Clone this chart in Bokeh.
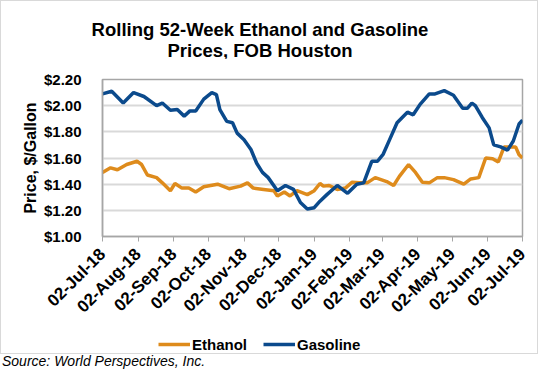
import math
import pandas as pd
from bokeh.plotting import figure
from bokeh.layouts import column
from bokeh.models import (Range1d, FixedTicker, DatetimeTickFormatter, NumeralTickFormatter,
                          Legend, Div)
from bokeh.embed import file_html
from bokeh.resources import INLINE

# ---------------- data ----------------
gas_dates = ["2018-07-02", "2018-07-10", "2018-07-20", "2018-07-29", "2018-08-07", "2018-08-18",
             "2018-08-23", "2018-08-30", "2018-09-05", "2018-09-11", "2018-09-16", "2018-09-21",
             "2018-09-28", "2018-10-05", "2018-10-09", "2018-10-12", "2018-10-18", "2018-10-23",
             "2018-10-27", "2018-11-02", "2018-11-08", "2018-11-13", "2018-11-18", "2018-11-23",
             "2018-12-01", "2018-12-08", "2018-12-15", "2018-12-21", "2018-12-27", "2019-01-02",
             "2019-01-07", "2019-01-13", "2019-01-22", "2019-01-31", "2019-02-08", "2019-02-14",
             "2019-02-21", "2019-02-26", "2019-03-03", "2019-03-09", "2019-03-15", "2019-03-24",
             "2019-03-29", "2019-04-04", "2019-04-12", "2019-04-17", "2019-04-25", "2019-05-03",
             "2019-05-11", "2019-05-15", "2019-05-19", "2019-05-22", "2019-05-28", "2019-06-03",
             "2019-06-07", "2019-06-13", "2019-06-19", "2019-06-24", "2019-06-29", "2019-07-02"]
gas_prices = [2.09, 2.11, 2.02, 2.10, 2.07, 2.00,
              2.02, 1.965, 1.97, 1.92, 1.96, 1.96,
              2.05, 2.10, 2.085, 1.97, 1.88, 1.87,
              1.79, 1.74, 1.665, 1.56, 1.49, 1.45,
              1.35, 1.39, 1.36, 1.26, 1.21, 1.22,
              1.27, 1.32, 1.39, 1.33, 1.40, 1.41,
              1.575, 1.575, 1.63, 1.75, 1.87, 1.95,
              1.93, 2.01, 2.09, 2.09, 2.115, 2.08,
              1.98, 1.98, 2.02, 2.00, 1.91, 1.83,
              1.70, 1.685, 1.66, 1.73, 1.86, 1.89]

eth_dates = ["2018-07-02", "2018-07-09", "2018-07-15", "2018-07-23", "2018-08-01", "2018-08-05",
             "2018-08-10", "2018-08-18", "2018-08-23", "2018-08-30", "2018-09-03", "2018-09-09",
             "2018-09-15", "2018-09-21", "2018-09-28", "2018-10-10", "2018-10-20", "2018-10-30",
             "2018-11-05", "2018-11-10", "2018-11-19", "2018-11-28", "2018-12-01", "2018-12-07",
             "2018-12-12", "2018-12-18", "2018-12-27", "2019-01-02", "2019-01-07", "2019-01-10",
             "2019-01-15", "2019-01-22", "2019-01-29", "2019-02-04", "2019-02-10", "2019-02-17",
             "2019-02-24", "2019-03-06", "2019-03-12", "2019-03-17", "2019-03-25", "2019-03-31",
             "2019-04-06", "2019-04-12", "2019-04-19", "2019-04-25", "2019-05-03", "2019-05-12",
             "2019-05-18", "2019-05-25", "2019-05-31", "2019-06-06", "2019-06-11", "2019-06-16",
             "2019-06-22", "2019-06-26", "2019-06-29", "2019-07-02"]
eth_prices = [1.49, 1.525, 1.51, 1.55, 1.575, 1.55,
              1.47, 1.45, 1.41, 1.35, 1.405, 1.37,
              1.37, 1.34, 1.38, 1.40, 1.365, 1.385,
              1.41, 1.37, 1.36, 1.35, 1.31, 1.34,
              1.31, 1.35, 1.32, 1.35, 1.405, 1.385,
              1.39, 1.36, 1.37, 1.415, 1.41, 1.41,
              1.45, 1.42, 1.39, 1.46, 1.55, 1.49,
              1.415, 1.41, 1.45, 1.45, 1.435, 1.40,
              1.44, 1.45, 1.60, 1.595, 1.57, 1.685,
              1.685, 1.685, 1.625, 1.60]

tick_dates = ["2018-07-02", "2018-08-02", "2018-09-02", "2018-10-02", "2018-11-02", "2018-12-02",
              "2019-01-02", "2019-02-02", "2019-03-02", "2019-04-02", "2019-05-02", "2019-06-02",
              "2019-07-02"]
y_ticks = [1.0, 1.2, 1.4, 1.6, 1.8, 2.0, 2.2]

series_names = ["Ethanol", "Gasoline"]
series_colors = ["#de8b1c", "#0b4a8c"]
title_lines = ["Rolling 52-Week Ethanol and Gasoline", "Prices, FOB Houston"]
source_text = "Source: World Perspectives, Inc."

# ---------------- styling constants ----------------
FONT = "Liberation Sans"
BOX = "1px solid #d9d9d9"
W = 538

gx = pd.to_datetime(gas_dates)
ex = pd.to_datetime(eth_dates)
tks = pd.to_datetime(tick_dates)
tick_ms = [t.value // 10**6 for t in tks]

# ---------------- title (top of the chart box) ----------------
line_tops = [18, 39]
line_divs = "".join(
    '<div style="position:absolute;left:0;top:%dpx;width:518px;height:22px;'
    'line-height:22px;text-align:center;white-space:nowrap;">%s</div>' % (t, s)
    for t, s in zip(line_tops, title_lines))
title_html = ('<div style="position:relative;width:518px;height:58px;margin:0;padding:0;'
              'font-weight:bold;font-size:18.5px;color:#000000;font-family:\'%s\';">%s</div>'
              % (FONT, line_divs))
title_div = Div(text=title_html, width=W, height=58, margin=0,
                styles={"border": BOX, "border-bottom": "none", "background": "white"})

# ---------------- main plot ----------------
p = figure(width=W, height=270, x_axis_type="datetime",
           x_range=Range1d(tks[0], tks[-1]), y_range=Range1d(1.0, 2.2),
           output_backend="svg", toolbar_location=None,
           min_border_left=101, min_border_right=17, min_border_top=21, min_border_bottom=92)
p.styles = {"border-left": BOX, "border-right": BOX}
p.background_fill_color = "white"
p.border_fill_color = "white"
p.outline_line_color = "#a6a6a6"
p.outline_line_width = 1.5

p.line(ex, eth_prices, line_color=series_colors[0], line_width=3.5)
p.line(gx, gas_prices, line_color=series_colors[1], line_width=3.5)

p.xgrid.visible = False
p.ygrid.grid_line_color = "#d9d9d9"
p.ygrid.grid_line_width = 2
p.ygrid.ticker = FixedTicker(ticks=y_ticks)

fmt = "%d-%b-%y"
p.xaxis.ticker = FixedTicker(ticks=tick_ms)
p.xaxis.formatter = DatetimeTickFormatter(microseconds=fmt, milliseconds=fmt, seconds=fmt,
                                          minsec=fmt, minutes=fmt, hourmin=fmt, hours=fmt,
                                          days=fmt, months=fmt, years=fmt)
p.xaxis.major_label_orientation = math.pi / 4
p.xaxis.axis_line_color = "#a6a6a6"
p.xaxis.axis_line_width = 1.5
p.xaxis.major_tick_line_color = "#a6a6a6"
p.xaxis.major_tick_out = 5
p.xaxis.major_tick_in = 0
p.xaxis.minor_tick_line_color = None
p.xaxis.major_label_standoff = 10
p.xaxis.major_label_text_font = FONT
p.xaxis.major_label_text_font_size = "17px"
p.xaxis.major_label_text_font_style = "bold"
p.xaxis.major_label_text_color = "#000000"

p.yaxis.ticker = FixedTicker(ticks=y_ticks)
p.yaxis.formatter = NumeralTickFormatter(format="$0.00")
p.yaxis.axis_line_color = "#a6a6a6"
p.yaxis.axis_line_width = 1.5
p.yaxis.major_tick_line_color = None
p.yaxis.minor_tick_line_color = None
p.yaxis.major_label_standoff = 15
p.yaxis.major_label_text_font = FONT
p.yaxis.major_label_text_font_size = "15px"
p.yaxis.major_label_text_font_style = "bold"
p.yaxis.major_label_text_color = "#000000"
p.yaxis.axis_label = "Price, $/Gallon"
p.yaxis.axis_label_text_font = FONT
p.yaxis.axis_label_text_font_size = "16px"
p.yaxis.axis_label_text_font_style = "bold"
p.yaxis.axis_label_text_color = "#000000"
p.yaxis.axis_label_standoff = 2

# ---------------- legend strip (bottom of the chart box) ----------------
# the strip holds the same two series, but its view window lies away from the data,
# so only the legend is visible
lg = figure(width=W, height=26, output_backend="svg", toolbar_location=None,
            x_range=Range1d(0, 1), y_range=Range1d(0, 1),
            x_axis_location=None, y_axis_location=None,
            min_border=0, min_border_left=0, min_border_right=0,
            min_border_top=0, min_border_bottom=0)
lg.styles = {"border": BOX, "border-top": "none"}
lg.outline_line_color = None
lg.xgrid.visible = False
lg.ygrid.visible = False
lg.background_fill_color = "white"
lg.border_fill_color = "white"
items = []
for name, col, xs, ys in zip(series_names, series_colors, [ex, gx], [eth_prices, gas_prices]):
    r = lg.line(xs, ys, line_color=col, line_width=3.5)
    items.append((name, [r]))
legend = Legend(items=items, orientation="horizontal", location=(56, 0),
                border_line_alpha=0, background_fill_alpha=0,
                padding=0, margin=0, spacing=16, label_standoff=2,
                glyph_width=32, glyph_height=20, label_height=20,
                label_text_font=FONT, label_text_font_size="15px",
                label_text_font_style="bold", label_text_color="#000000")
lg.add_layout(legend, "center")

# ---------------- source line ----------------
src = Div(text=source_text, width=540, height=14, margin=0,
          styles={"font-family": FONT, "font-size": "14px", "font-style": "italic",
                  "line-height": "14px", "color": "#000000", "padding-left": "2px"})

layout = column(title_div, p, lg, src, spacing=0)
open("out.html", "w").write(file_html(layout, INLINE))
